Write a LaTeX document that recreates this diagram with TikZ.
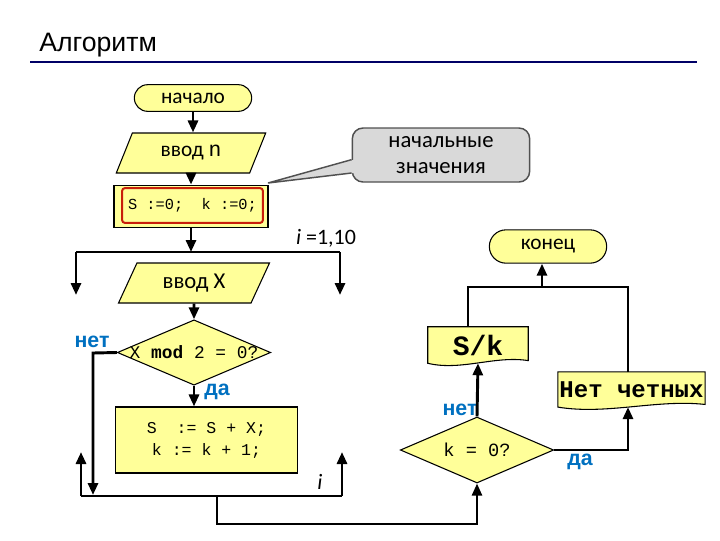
\documentclass[tikz,border=0pt]{standalone}
\usepackage{fontspec}
\setmainfont{Carlito}
\setmonofont{Liberation Mono}
\newfontfamily\arialfont{Liberation Sans}
\usetikzlibrary{shapes.geometric,shapes.misc,arrows.meta,calc,backgrounds}
\definecolor{boxyellow}{RGB}{255,255,153}
\definecolor{notegray}{RGB}{217,217,217}
\definecolor{noteline}{RGB}{80,80,80}
\definecolor{markred}{RGB}{200,30,10}
\definecolor{answblue}{RGB}{0,112,192}
\definecolor{rulenavy}{RGB}{0,0,102}
\newcommand{\fsz}[2]{\fontsize{#1}{#2}\selectfont}
% outline of a document block (wavy bottom)
\newcommand{\docoutline}[1]{%
  \draw[line width=0.8pt, fill=boxyellow] (#1.south west) -- (#1.north west) -- (#1.north east) -- ([yshift=2pt]#1.south east)
    .. controls ($(#1.south west)!0.67!(#1.south east)+(0,-8)$) and ($(#1.south west)!0.33!(#1.south east)+(0,8)$) .. (#1.south west) -- cycle;}

\begin{document}
\begin{tikzpicture}[x=0.75pt, y=-0.75pt,
  blk/.style={draw, line width=0.8pt, fill=boxyellow, inner sep=0pt},
  term/.style={blk, rounded rectangle, font=\fsz{16}{19}},
  io/.style={blk, trapezium, trapezium left angle=61, trapezium right angle=119, trapezium stretches=true},
  proc/.style={blk, rectangle},
  dec/.style={blk, diamond},
  docnode/.style={rectangle, inner sep=0pt},
  note/.style={draw=noteline, line width=1.1pt, fill=notegray, rounded corners=8pt, align=center, font=\fsz{17}{20}},
  wire/.style={line width=2.2pt},
  arr/.style={line width=2.2pt, -{Triangle[length=9pt,width=7.5pt]}},
  ans/.style={font=\arialfont\bfseries\fsz{16}{19}, text=answblue, inner sep=0pt},
]
\useasboundingbox (0,0) rectangle (720,540);

% title
\node[anchor=base west, font=\arialfont\fsz{20}{24}, inner sep=0pt] (title) at (39,51) {Алгоритм};
\draw[rulenavy, line width=2.2pt] (30,62) -- (697,62);

% start, input, init
\node[term, minimum width=88pt, minimum height=20pt] (start) at (193,98) {начало};
\node[io, minimum width=112.5pt, minimum height=30pt, font=\fsz{16}{19}] (inn) at (191,153) {ввод \texttt{n}};
\node[note, minimum width=133pt, minimum height=40.5pt] (note) at (441,155) {начальные\\значения};
\coordinate (tip) at (268,183);
\fill[notegray] (tip) -- ([yshift=-3.5pt, xshift=2pt]note.west) -- ([yshift=-13.5pt, xshift=2pt]note.west) -- cycle;
\draw[noteline, line width=1.1pt] ([yshift=-3.5pt]note.west) -- (tip) -- ([yshift=-13.5pt]note.west);

\node[proc, minimum width=115.5pt, minimum height=32pt] (init) at (191,206.5) {};
\node[draw=markred, line width=1.5pt, rounded corners=2pt, minimum width=105.5pt, minimum height=26pt, inner sep=0pt,
  font=\ttfamily\fsz{11.5}{14}] (initv) at (192.5,205.5) {S :=0;~ k :=0;};

\draw[arr] (start.south) -- (start.south |- inn.north);
\draw[arr] (inn.south) -- (inn.south |- init.north);

% loop header
\coordinate (ltop) at (76,252);
\coordinate (rtop) at (340,252);
\coordinate (ltopd) at (76,295);
\coordinate (rtopd) at (340,295);
\draw[arr] (init.south) -- (init.south |- ltop);
\draw[wire] (ltop) -- (rtop);
\draw[arr] (ltop) -- (ltopd);
\draw[arr] (rtop) -- (rtopd);
\node[font=\fsz{16.5}{20}] (range) at (326,238) {\textit{i} =1,10};

% loop body
\node[io, minimum width=114pt, minimum height=30pt, font=\fsz{17}{20}] (inx) at (194,283) {ввод X};
\node[dec, minimum width=115pt, minimum height=49pt, font=\ttfamily\fsz{13.4}{16}] (mod) at (194,352.5) {\makebox[0pt]{X \textbf{mod} 2 = 0?}};
\draw[arr] (inx.south) -- (mod.north);

\node[ans] (no1) at (92,342) {нет};
\coordinate (nocorner) at (93,353);
\coordinate (nobot) at (93,495);
\draw[arr] (mod.west) -- (nocorner) -- (nobot);

\node[proc, minimum width=137pt, minimum height=49.5pt, align=center, font=\ttfamily\fsz{12.4}{16.5}] (acc) at (206.5,440) {S~ := S + X;\\k := k + 1;};
\draw[arr] (mod.south) -- (mod.south |- acc.north);
\node[ans] (yes1) at (217,392) {да};

% loop end
\coordinate (lbot) at (81,496);
\coordinate (rbot) at (342,496);
\coordinate (lbotu) at (81,452);
\coordinate (rbotu) at (342,452);
\draw[wire] (lbot) -- (rbot);
\draw[arr] (lbot) -- (lbotu);
\draw[arr] (rbot) -- (rbotu);
\node[font=\fsz{16.5}{20}] (ivar) at (320,482) {\textit{i}};

% after the loop
\node[dec, minimum width=115pt, minimum height=49.5pt, font=\ttfamily\fsz{14}{17}] (kz) at (477,450) {\makebox[0pt]{k = 0?}};
\coordinate (exit) at (217,496);
\coordinate (exitd) at (217,524);
\draw[arr, line width=1.8pt] (exit) -- (exitd) -| (kz.south);

\node[docnode, minimum width=75pt, minimum height=27pt, font=\ttfamily\bfseries\fsz{21}{24}] (sk) at (478,345) {S/k};
\node[docnode, minimum width=110pt, minimum height=26pt, font=\ttfamily\bfseries\fsz{18}{21}] (none) at (631.5,389.5) {Нет четных};
\begin{scope}[on background layer]
  \docoutline{sk}
  \docoutline{none}
\end{scope}

\node[ans] (no2) at (460,410) {нет};
\node[ans] (yes2) at (580,462) {да};
\draw[arr] (kz.north) -- (sk.south);

\node[term, minimum width=88pt, minimum height=25pt] (stop) at (548,246.5) {конец};
\coordinate (joinl) at (468,287);
\coordinate (joinr) at (628,287);
\coordinate (join) at (542,287);
\draw[wire] (sk.north -| joinl) -- (joinl) -- (joinr) -- (joinr |- none.north);
\draw[arr] (join) -- (join |- stop.south);
\draw[arr] (kz.east) -| (none.south -| joinr);
\end{tikzpicture}
\end{document}
